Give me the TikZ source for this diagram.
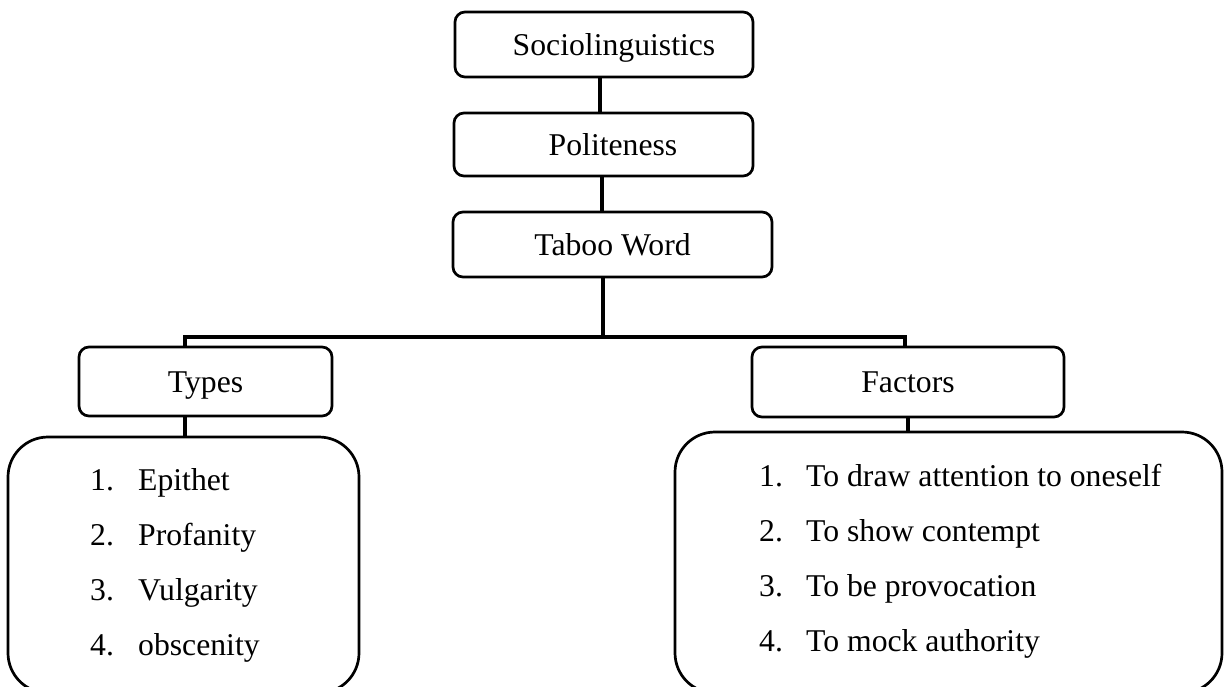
\documentclass[tikz,border=0pt]{standalone}
\usepackage{fontspec}
\setmainfont{Liberation Serif}
\begin{document}
\begin{tikzpicture}[x=1pt,y=-1pt,
  box/.style={draw,line width=2.7pt,rounded corners=10pt,inner sep=0pt,text height=21pt,text depth=0pt,font=\fontsize{31.7}{38}\selectfont},
  listbox/.style={draw,line width=2.7pt,rounded corners=40pt,inner sep=0pt},
  item/.style={anchor=base west,inner sep=0pt,font=\fontsize{31.7}{38}\selectfont},
  conn/.style={line width=3.8pt}]
\useasboundingbox (0,0) rectangle (1225,686);
\begin{scope}
\clip (0,0) rectangle (1225,686);
% top boxes
\node[box,minimum width=298pt,minimum height=65pt] (soc) at (604,44.5) {\hspace*{20pt}Sociolinguistics};
\node[box,minimum width=299pt,minimum height=63pt] (pol) at (603.5,144.5) {\hspace*{19pt}Politeness};
\node[box,minimum width=319pt,minimum height=65pt] (tab) at (612.5,244.5) {Taboo Word};
% second level
\node[box,minimum width=253pt,minimum height=69pt] (types) at (205.5,381.5) {Types};
\node[box,minimum width=312pt,minimum height=70pt] (fac) at (908,382) {Factors};
% list boxes
\node[listbox,minimum width=351pt,minimum height=256pt] (tlist) at (183.5,565) {};
\node[listbox,minimum width=547pt,minimum height=261pt] (flist) at (948.5,562.5) {};
% list items (types)
\node[item] (t1n) at (90,490) {1.};
\node[item] (t1) at (138,490) {Epithet};
\node[item] (t2n) at (90,545) {2.};
\node[item] (t2) at (138,545) {Profanity};
\node[item] (t3n) at (90,600) {3.};
\node[item] (t3) at (138,600) {Vulgarity};
\node[item] (t4n) at (90,655) {4.};
\node[item] (t4) at (138,655) {obscenity};
% list items (factors)
\node[item] (f1n) at (759,486) {1.};
\node[item] (f1) at (806,486) {To draw attention to oneself};
\node[item] (f2n) at (759,541) {2.};
\node[item] (f2) at (806,541) {To show contempt};
\node[item] (f3n) at (759,596) {3.};
\node[item] (f3) at (806,596) {To be provocation};
\node[item] (f4n) at (759,651) {4.};
\node[item] (f4) at (806,651) {To mock authority};
% connectors
\coordinate (jt) at (603,337);
\coordinate (jl) at (185,337);
\coordinate (jr) at (905,337);
\draw[conn] ([xshift=-4pt]soc.south) -- ([xshift=-3.5pt]pol.north);
\draw[conn] ([xshift=-1.5pt]pol.south) -- ([xshift=-10.5pt]tab.north);
\draw[conn] (tab.south -| jt) -- (jt);
\draw[conn] (types.north -| jl) -- (jl) -- (jr) -- (fac.north -| jr);
\draw[conn] (types.south -| jl) -- (tlist.north -| jl);
\draw[conn] (fac.south) -- (flist.north -| fac.south);
\end{scope}
\end{tikzpicture}
\end{document}
